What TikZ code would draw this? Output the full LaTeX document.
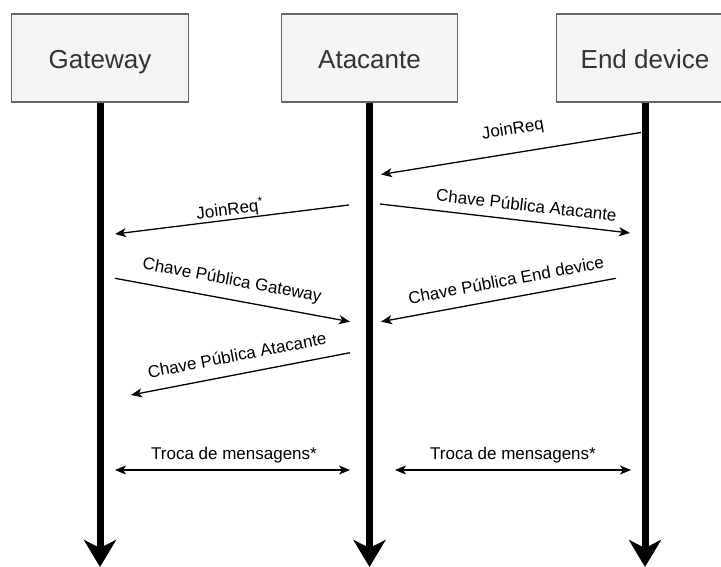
\documentclass[tikz,border=0pt]{standalone}
\usepackage{fontspec}
\setmainfont{Liberation Sans}
\usetikzlibrary{arrows.meta}
\definecolor{boxfill}{HTML}{F5F5F5}
\definecolor{boxdraw}{HTML}{666666}
\definecolor{boxtext}{HTML}{333333}
\tikzset{
  actor/.style={draw=boxdraw, fill=boxfill, line width=1.3pt, minimum width=176.5pt, minimum height=88pt, inner sep=0pt, text=boxtext, text height=25pt, text depth=3pt, font=\fontsize{26}{31}\selectfont},
  lifeline/.style={line width=7pt, -{Stealth[length=27pt,width=32pt,inset=8pt]}},
  msg/.style={line width=1.3pt, -{Stealth[length=11pt,width=9pt,inset=3pt]}},
  msgboth/.style={line width=1.3pt, {Stealth[length=11pt,width=9pt,inset=3pt]}-{Stealth[length=11pt,width=9pt,inset=3pt]}},
  lbl/.style={font=\fontsize{17}{20}\selectfont, inner sep=0pt}
}
\begin{document}
\begin{tikzpicture}[x=1pt,y=-1pt]
\useasboundingbox (0,0) rectangle (721,567);
\clip (0,0) rectangle (721,567);
% actors
\node[actor] (gw) at (100,58) {Gateway};
\node[actor] (at) at (369.5,58) {Atacante};
\node[actor] (ed) at (645,58) {End device};
% lifeline ends
\coordinate (gwend) at (100,567);
\coordinate (atend) at (369.5,567);
\coordinate (edend) at (645,567);
\draw[lifeline] (gw.south) -- (gwend);
\draw[lifeline] (at.south) -- (atend);
\draw[lifeline] (ed.south) -- (edend);
% message endpoints
\coordinate (m1a) at (641,132.5);  \coordinate (m1b) at (381,174.5);
\coordinate (m2a) at (349,205);    \coordinate (m2b) at (115,234);
\coordinate (m3a) at (380,204);    \coordinate (m3b) at (630,233);
\coordinate (m4a) at (115,278.3);  \coordinate (m4b) at (350,321.7);
\coordinate (m5a) at (616,278.3);  \coordinate (m5b) at (381,321.7);
\coordinate (m6a) at (350,352.7);  \coordinate (m6b) at (131,395);
\coordinate (m7a) at (115,470);    \coordinate (m7b) at (350,470);
\coordinate (m8a) at (395,470);    \coordinate (m8b) at (631,470);
% messages
\draw[msg] (m1a) -- (m1b);
\draw[msg] (m2a) -- (m2b);
\draw[msg] (m3a) -- (m3b);
\draw[msg] (m4a) -- (m4b);
\draw[msg] (m5a) -- (m5b);
\draw[msg] (m6a) -- (m6b);
\draw[msgboth] (m7a) -- (m7b);
\draw[msgboth] (m8a) -- (m8b);
% labels
\node[lbl, rotate=9.2] (l1) at (513,130) {JoinReq};
\node[lbl, rotate=7.3] (l2) at (230,209.5) {JoinReq\textsuperscript{*}};
\node[lbl, rotate=-6.6] (l3) at (526.5,205) {Chave Pública Atacante};
\node[lbl, rotate=-10.5] (l4) at (232,281) {Chave Pública Gateway};
\node[lbl, rotate=10.5] (l5) at (506,280) {Chave Pública End device};
\node[lbl, rotate=10.9] (l6) at (237,355) {Chave Pública Atacante};
\node[lbl] (l7) at (234,455) {Troca de mensagens*};
\node[lbl] (l8) at (513,455) {Troca de mensagens*};
\end{tikzpicture}
\end{document}
